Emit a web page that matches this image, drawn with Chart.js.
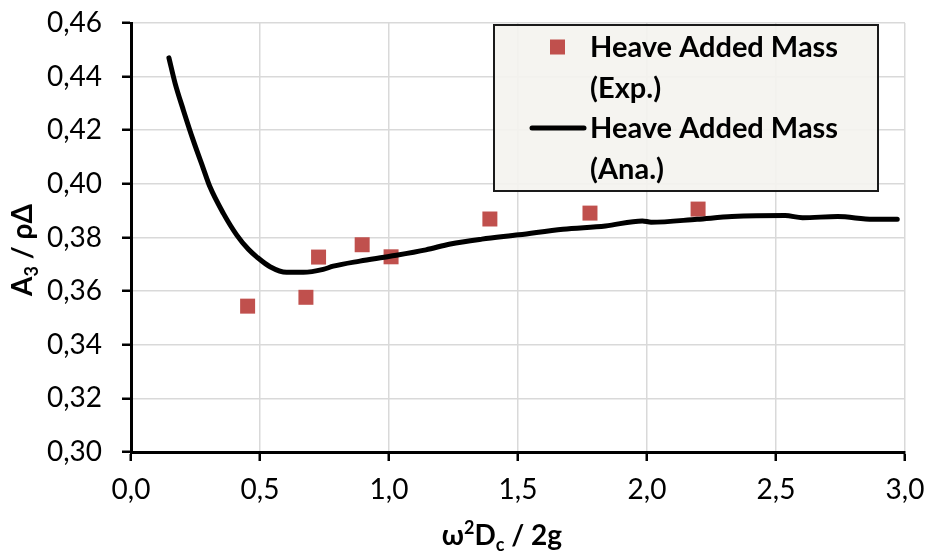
<!DOCTYPE html>
<html>
<head>
<meta charset="utf-8">
<script src="https://cdn.jsdelivr.net/npm/chart.js@4/dist/chart.umd.min.js"></script>
<style>
  html, body { margin: 0; padding: 0; background: #fff; }
  #wrap { width: 929px; height: 556px; }
</style>
</head>
<body>
<div id="wrap"><canvas id="chart" width="929" height="556"></canvas></div>
<script>
// Experimental points
const expX = [0.452, 0.678, 0.727, 0.896, 1.008, 1.391, 1.779, 2.198];
const expY = [0.3544, 0.3577, 0.3727, 0.3773, 0.3728, 0.3869, 0.3891, 0.3906];

// Analytical curve
const anaX = [0.147, 0.171, 0.203, 0.241, 0.280, 0.306, 0.358, 0.410, 0.455, 0.487, 0.539,
              0.603, 0.668, 0.745, 0.784, 0.887, 1.004, 1.143, 1.238, 1.360, 1.504, 1.674,
              1.839, 1.982, 2.016, 2.194, 2.329, 2.535, 2.603, 2.739, 2.876, 2.970];
const anaY = [0.4470, 0.4375, 0.4275, 0.4163, 0.4058, 0.3989, 0.3890, 0.3809, 0.3756, 0.3728, 0.3691,
              0.3670, 0.3670, 0.3681, 0.3693, 0.3712, 0.3730, 0.3754, 0.3776, 0.3794, 0.3810, 0.3831,
              0.3843, 0.3862, 0.3857, 0.3868, 0.3878, 0.3882, 0.3874, 0.3878, 0.3868, 0.3868];

const xTickLabels = ['0,0', '0,5', '1,0', '1,5', '2,0', '2,5', '3,0'];
const yTickLabels = ['0,30', '0,32', '0,34', '0,36', '0,38', '0,40', '0,42', '0,44', '0,46'];

const expLabel = ['Heave Added Mass', '(Exp.)'];
const anaLabel = ['Heave Added Mass', '(Ana.)'];

const FONT = 'Lato';
const RED = '#c0504d';

// draws a row of text pieces (with sub/superscripts) centred on cx
function drawRuns(ctx, runs, cx, baseY) {
  let total = 0;
  runs.forEach(r => {
    ctx.font = `bold ${r.size}px ${FONT}`;
    r.w = ctx.measureText(r.text).width;
    total += r.w;
  });
  let x = cx - total / 2;
  ctx.textAlign = 'left';
  ctx.textBaseline = 'alphabetic';
  runs.forEach(r => {
    ctx.font = `bold ${r.size}px ${FONT}`;
    ctx.fillText(r.text, x, baseY + (r.dy || 0));
    x += r.w;
  });
}

const axisTitles = {
  id: 'axisTitles',
  afterDraw(chart) {
    const ctx = chart.ctx;
    ctx.save();
    ctx.fillStyle = '#000';
    drawRuns(ctx, [
      { text: 'ω', size: 28 },
      { text: '2', size: 18, dy: -11 },
      { text: 'D', size: 28 },
      { text: 'c', size: 18, dy: 6 },
      { text: ' / 2g', size: 28 }
    ], 502, 545);
    ctx.translate(32, 250);
    ctx.rotate(-Math.PI / 2);
    drawRuns(ctx, [
      { text: 'A', size: 28 },
      { text: '3', size: 18, dy: 6 },
      { text: ' / ρΔ', size: 28 }
    ], 0, 0);
    ctx.restore();
  }
};

// boxed legend with two-line labels
const boxLegend = {
  id: 'boxLegend',
  afterDraw(chart, args, opts) {
    const ctx = chart.ctx;
    const { left, top, width, height } = opts;
    const sets = chart.data.datasets;
    ctx.save();
    ctx.fillStyle = 'rgba(244,243,238,0.9)';
    ctx.fillRect(left, top, width, height);
    ctx.strokeStyle = '#1a1a1a';
    ctx.lineWidth = 2;
    ctx.strokeRect(left, top, width, height);

    ctx.font = `bold 29px ${FONT}`;
    ctx.fillStyle = '#000';
    ctx.textAlign = 'left';
    ctx.textBaseline = 'alphabetic';
    const lineH = 40.5;
    const textX = left + 96;
    let base = top + 32;
    // legend follows the series listing: points first, then curve
    [sets[1], sets[0]].forEach(ds => {
      const midY = base - 10;
      if (ds.showLine === false) {
        ctx.fillStyle = ds.backgroundColor;
        ctx.fillRect(left + 56, midY - 7.5, 15, 15);
      } else {
        ctx.strokeStyle = ds.borderColor;
        ctx.lineWidth = 5;
        ctx.lineCap = 'round';
        ctx.beginPath();
        ctx.moveTo(left + 38, midY);
        ctx.lineTo(left + 90, midY);
        ctx.stroke();
      }
      ctx.fillStyle = '#000';
      ds.label.forEach(line => {
        ctx.fillText(line, textX, base);
        base += lineH;
      });
    });
    ctx.restore();
  }
};

new Chart(document.getElementById('chart'), {
  type: 'scatter',
  data: {
    datasets: [
      {
        label: anaLabel,
        data: anaX.map((x, i) => ({ x: x, y: anaY[i] })),
        showLine: true,
        borderColor: '#000',
        borderWidth: 5,
        borderCapStyle: 'round',
        borderJoinStyle: 'round',
        cubicInterpolationMode: 'monotone',
        pointRadius: 0,
        order: 0
      },
      {
        label: expLabel,
        data: expX.map((x, i) => ({ x: x, y: expY[i] })),
        showLine: false,
        backgroundColor: RED,
        borderWidth: 0,
        pointStyle: 'rect',
        pointRadius: 10.6,
        order: 1
      }
    ]
  },
  options: {
    responsive: false,
    animation: false,
    devicePixelRatio: 1,
    layout: { padding: { left: 0, top: 23, right: 24, bottom: 0 } },
    plugins: {
      legend: { display: false },
      tooltip: { enabled: false },
      boxLegend: { left: 494, top: 25, width: 384, height: 166 }
    },
    scales: {
      x: {
        type: 'linear',
        min: 0,
        max: 3,
        ticks: {
          stepSize: 0.5,
          padding: 12,
          color: '#000',
          font: { family: FONT, size: 28 },
          callback: (v, i) => xTickLabels[i]
        },
        grid: { color: '#d9d9d9', lineWidth: 1.5, tickColor: '#000', tickLength: 9, tickWidth: 2.5 },
        border: { color: '#000', width: 3 },
        afterFit: s => { s.height = 104; s.paddingLeft = 0; s.paddingRight = 0; }
      },
      y: {
        min: 0.30,
        max: 0.46,
        ticks: {
          stepSize: 0.02,
          padding: 20,
          color: '#000',
          font: { family: FONT, size: 28 },
          callback: (v, i) => yTickLabels[i]
        },
        grid: { color: '#d9d9d9', lineWidth: 1.5, tickColor: '#000', tickLength: 9, tickWidth: 2.5 },
        border: { color: '#000', width: 3 },
        afterFit: s => { s.width = 131; s.paddingTop = 0; s.paddingBottom = 0; }
      }
    }
  },
  plugins: [axisTitles, boxLegend]
});
</script>
</body>
</html>
